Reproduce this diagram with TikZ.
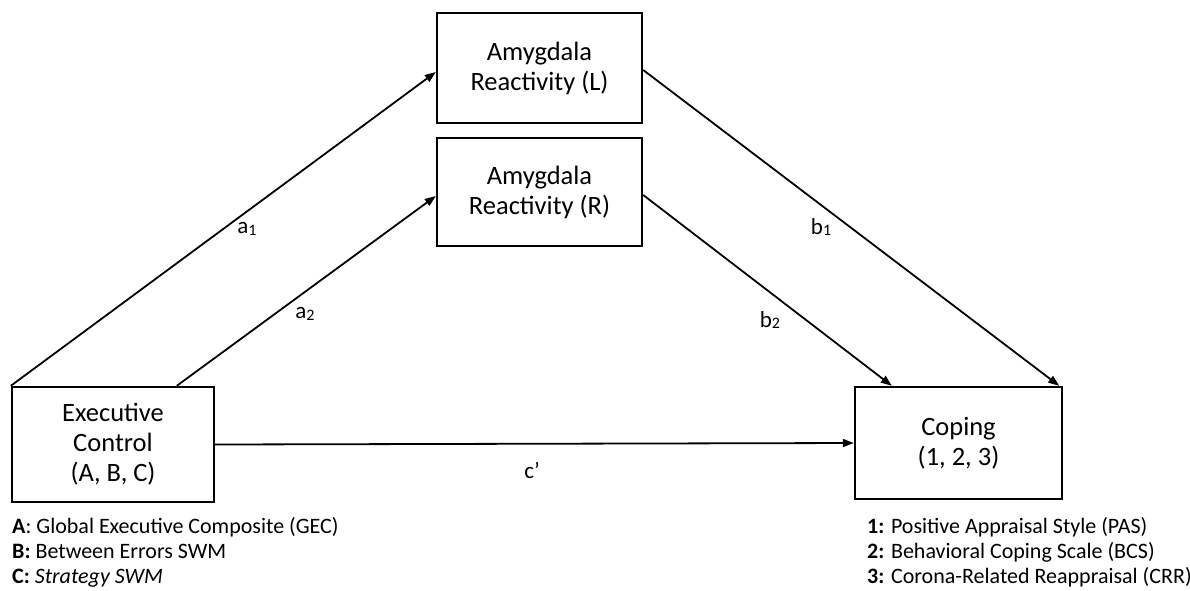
\documentclass[tikz,border=0pt]{standalone}
\usepackage{fontspec}
\setmainfont{Carlito}
\usetikzlibrary{arrows.meta}
\newcommand\lowsub[1]{\raisebox{-1.5pt}{\fontsize{16}{16}\selectfont #1}}
\begin{document}
\begin{tikzpicture}[x=1pt,y=-1pt,
  box/.style={draw, line width=2.4pt, align=center, inner sep=0pt,
    font=\fontsize{26.5}{30}\selectfont},
  arr/.style={line width=1.8pt, -{Triangle[length=11pt,width=8pt]}},
  lab/.style={inner sep=0pt, font=\fontsize{23}{25}\selectfont},
  note/.style={inner sep=0pt, anchor=base west, font=\fontsize{22}{25}\selectfont}]
\useasboundingbox (0,0) rectangle (1190,590);

\node[box, minimum width=205pt, minimum height=110pt] (L) at (539.5,68) {Amygdala\\Reactivity (L)};
\node[box, minimum width=205pt, minimum height=108pt] (R) at (539.5,192) {Amygdala\\Reactivity (R)};
\node[box, minimum width=202pt, minimum height=115pt] (E) at (113,444.5) {Executive\\Control\\(A, B, C)};
\node[box, minimum width=207pt, minimum height=112pt] (C) at (958.5,443) {Coping\\(1, 2, 3)};

\draw[arr] (E.north west) -- ([yshift=-4pt]L.west);
\draw[arr] ([xshift=166pt]E.north west) -- ([yshift=-4pt]R.west);
\draw[arr] ([yshift=-2pt]L.east) -- ([xshift=-4pt]C.north east);
\draw[arr] ([yshift=-3pt]R.east) -- ([xshift=38pt]C.north west);
\draw[arr] (E.east) -- (C.west);

\node[lab] (la1) at (247,229) {a\lowsub{1}};
\node[lab] (la2) at (305,314) {a\lowsub{2}};
\node[lab] (lb1) at (821,227) {b\lowsub{1}};
\node[lab] (lb2) at (770,320) {b\lowsub{2}};
\node[lab] (lc) at (532,470) {c’};

\node[note] (nA) at (12,533) {\textbf{A}: Global Executive Composite (GEC)};
\node[note] (nB) at (12,558) {\textbf{B:} Between Errors SWM};
\node[note] (nC) at (12,583) {\textbf{C:} \textit{Strategy SWM}};
\node[note] (n1) at (867,533) {\textbf{1:} Positive Appraisal Style (PAS)};
\node[note] (n2) at (867,558) {\textbf{2:} Behavioral Coping Scale (BCS)};
\node[note] (n3) at (867,583) {\textbf{3:} Corona-Related Reappraisal (CRR)};
\end{tikzpicture}
\end{document}
